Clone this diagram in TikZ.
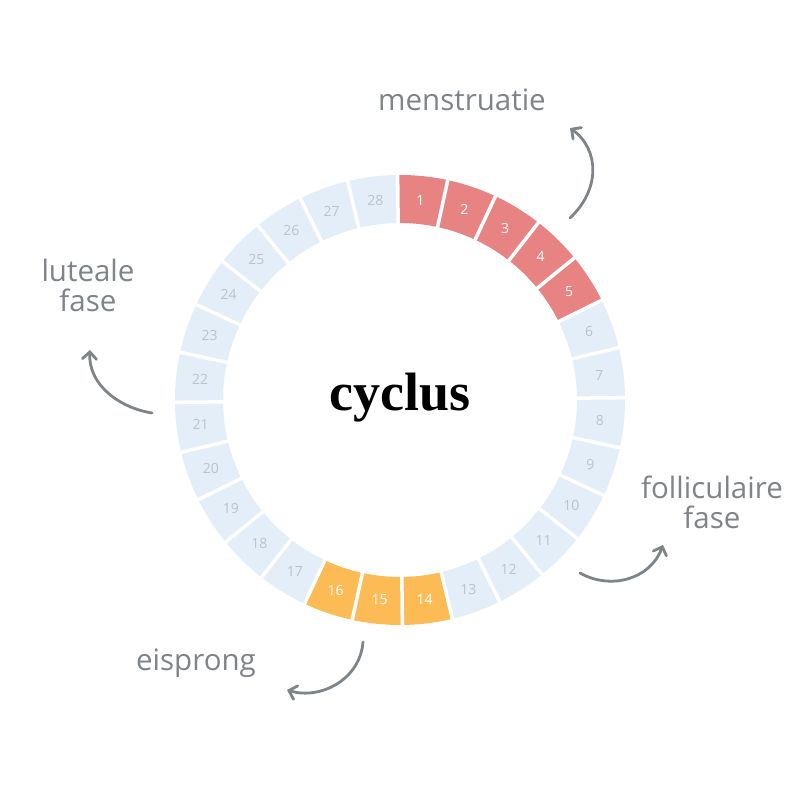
\documentclass[tikz,border=0pt]{standalone}
\usepackage{fontspec}
\setmainfont{Open Sans}
\newfontfamily\titlefont{Liberation Serif}
\usetikzlibrary{arrows.meta,calc}
\definecolor{segred}{HTML}{E88383}
\definecolor{segorange}{HTML}{FDBB55}
\definecolor{segblue}{HTML}{E4EEF8}
\definecolor{numgray}{HTML}{B9C3CE}
\definecolor{labgray}{HTML}{7F8489}
\tikzset{
  lab/.style={text=labgray,font=\fontsize{29.5}{30}\selectfont,align=center},
  num/.style={font=\fontsize{14}{16}\selectfont},
  arr/.style={draw=labgray,line width=2.8pt,line cap=round,-{Straight Barb[length=7pt,width=14pt,line cap=round]}}
}
\begin{document}
\begin{tikzpicture}[x=1pt,y=1pt]
\useasboundingbox[fill=white] (0,0) rectangle (800,800);
\coordinate (c) at (400,400);
\foreach \k in {1,...,28}{
  \pgfmathsetmacro{\a}{90.6-(\k-1)*360/28}
  \pgfmathsetmacro{\b}{\a-360/28}
  \pgfmathsetmacro{\m}{(\a+\b)/2}
  \ifnum\k<6 \def\fc{segred}\def\tc{white}\else
   \ifnum\k>13 \ifnum\k<17 \def\fc{segorange}\def\tc{white}\else\def\fc{segblue}\def\tc{numgray}\fi
   \else\def\fc{segblue}\def\tc{numgray}\fi\fi
  \fill[\fc] ($(c)+(\a:225)$) arc[start angle=\a,end angle=\b,radius=225]
     -- ($(c)+(\b:177)$) arc[start angle=\b,end angle=\a,radius=177] -- cycle;
  \node[num,text=\tc] (n\k) at ($(c)+(\m:201)$) {\k};
}
\foreach \k in {1,...,28}{
  \pgfmathsetmacro{\a}{90.6-(\k-1)*360/28}
  \draw[white,line width=3.5pt] ($(c)+(\a:170)$) -- ($(c)+(\a:232)$);
}
\node[font=\titlefont\bfseries\fontsize{54}{60}\selectfont] (t) at (400,402) {cyclus};
\node[lab] (m) at (462,700) {menstruatie};
\node[lab] (l) at (88,515) {luteale\\fase};
\node[lab] (f) at (712,298) {folliculaire\\fase};
\node[lab] (e) at (196,137) {eisprong};
\coordinate (m1) at (570,582); \coordinate (m2) at (570,672);
\coordinate (l1) at (152,387); \coordinate (l2) at (90,450);
\coordinate (f1) at (580,227); \coordinate (f2) at (663,255);
\coordinate (e1) at (363,158); \coordinate (e2) at (287,110);
\draw[arr] (m1) .. controls (600,610) and (600,650) .. (m2);
\draw[arr] (l1) .. controls (120,392) and (88,415) .. (l2);
\draw[arr] (f1) .. controls (610,210) and (650,220) .. (f2);
\draw[arr] (e1) .. controls (360,120) and (320,100) .. (e2);
\end{tikzpicture}
\end{document}
